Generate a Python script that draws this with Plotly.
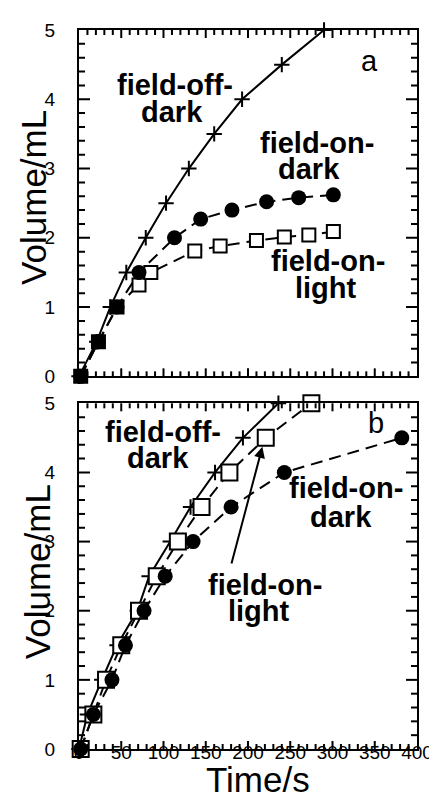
import plotly.graph_objects as go

# ---------------- data ----------------
a_off_t = [0, 21, 37, 56, 79, 103, 130, 160, 193, 240, 290]
a_off_v = [0, 0.5, 1.0, 1.5, 2.0, 2.5, 3.0, 3.5, 4.0, 4.5, 5.0]
a_ondark_t = [2, 23, 45, 71, 113, 144, 181, 222, 260, 301]
a_ondark_v = [0, 0.5, 1.0, 1.5, 2.0, 2.27, 2.4, 2.52, 2.58, 2.62]
a_onlight_t = [2, 23, 45, 71, 85, 137, 167, 210, 243, 272, 301]
a_onlight_v = [0, 0.5, 1.0, 1.32, 1.5, 1.81, 1.88, 1.96, 2.01, 2.04, 2.09]

b_off_t = [0, 10, 27, 45, 69, 83, 108, 132, 161, 194, 236]
b_off_v = [0, 0.5, 1.0, 1.5, 2.0, 2.5, 3.0, 3.5, 4.0, 4.5, 5.0]
b_ondark_t = [2, 17, 39, 55, 77, 102, 135, 180, 243, 382]
b_ondark_v = [0, 0.5, 1.0, 1.5, 2.0, 2.5, 3.0, 3.5, 4.0, 4.5]
b_onlight_t = [2, 17, 32, 50, 71, 92, 117, 145, 178, 221, 275]
b_onlight_v = [0, 0.5, 1.0, 1.5, 2.0, 2.5, 3.0, 3.5, 4.0, 4.5, 5.0]

x_major, x_minor, x_max = 50, 10, 400
y_major, y_minor, y_max = 1.0, 0.2, 5.0

FONT = "Liberation Sans, Arial, Helvetica, sans-serif"
DASH = "12px,7px"

fig = go.Figure()

def add_panel(xa, ya, off_t, off_v, dark_t, dark_v, light_t, light_v, light_colors, sq_size):
    fig.add_trace(go.Scatter(
        x=off_t, y=off_v, mode="lines+markers", xaxis=xa, yaxis=ya,
        line=dict(color="black", width=2),
        marker=dict(symbol="cross-thin", size=11, line=dict(color="black", width=2)),
        cliponaxis=False, showlegend=False))
    fig.add_trace(go.Scatter(
        x=light_t, y=light_v, mode="lines+markers", xaxis=xa, yaxis=ya,
        line=dict(color="black", width=2, dash=DASH),
        marker=dict(symbol="square", size=sq_size, color=light_colors,
                    line=dict(color="black", width=2)),
        cliponaxis=False, showlegend=False))
    fig.add_trace(go.Scatter(
        x=dark_t, y=dark_v, mode="lines+markers", xaxis=xa, yaxis=ya,
        line=dict(color="black", width=2, dash=DASH),
        marker=dict(symbol="circle", size=15, color="black"),
        cliponaxis=False, showlegend=False))

a_colors = ["black"] * 3 + ["white"] * (len(a_onlight_t) - 3)
add_panel("x", "y", a_off_t, a_off_v, a_ondark_t, a_ondark_v,
          a_onlight_t, a_onlight_v, a_colors, 13)
add_panel("x2", "y2", b_off_t, b_off_v, b_ondark_t, b_ondark_v,
          b_onlight_t, b_onlight_v, "white", 16)

# inward ticks on all four sides of each panel
def add_ticks(xa, ya):
    n = int(round(x_max / x_minor))
    for i in range(1, n):
        v = i * x_minor
        major = v % x_major == 0
        L = 8 if major else 5
        for anchor, sgn in ((0, 1), (1, -1)):
            fig.add_shape(type="line", xref=xa, yref=ya + " domain",
                          ysizemode="pixel", yanchor=anchor,
                          x0=v, x1=v, y0=0, y1=sgn * L,
                          line=dict(color="black", width=2), layer="above")
    m = int(round(y_max / y_minor))
    for j in range(1, m):
        v = j * y_minor
        major = j % int(round(y_major / y_minor)) == 0
        L = 11 if major else 6
        for anchor, sgn in ((0, 1), (1, -1)):
            fig.add_shape(type="line", xref=xa + " domain", yref=ya,
                          xsizemode="pixel", xanchor=anchor,
                          y0=v, y1=v, x0=0, x1=sgn * L,
                          line=dict(color="black", width=2), layer="above")

add_ticks("x", "y")
add_ticks("x2", "y2")

tickfont = dict(family=FONT, size=19, color="black")
ax_common = dict(showline=True, linewidth=2, linecolor="black", mirror=True,
                 ticks="", showgrid=False, zeroline=False, tickfont=tickfont)

fig.update_layout(
    width=437, height=803,
    margin=dict(l=71, r=18, t=21, b=62),
    paper_bgcolor="white", plot_bgcolor="white",
    xaxis=dict(domain=[0, 1], anchor="y", range=[0, x_max], tick0=0, dtick=x_major,
               showticklabels=False, **ax_common),
    yaxis=dict(domain=[0.5183, 1], anchor="x", range=[0, y_max], tick0=0, dtick=y_major,
               ticklabelstandoff=18, **ax_common),
    xaxis2=dict(domain=[0, 1], anchor="y2", range=[0, x_max], tick0=0, dtick=x_major,
                ticklabelstandoff=-15, **ax_common),
    yaxis2=dict(domain=[0, 0.4808], anchor="x2", range=[0, y_max], tick0=0, dtick=y_major,
                ticklabelstandoff=18, **ax_common),
)

bold = dict(family=FONT, size=29, color="black", weight="bold")
reg = dict(family=FONT, size=29, color="black")

labels = [
    ("x", "y", 114, 4.21, "field-off-", bold),
    ("x", "y", 110, 3.82, "dark", bold),
    ("x", "y", 282, 3.37, "field-on-", bold),
    ("x", "y", 272, 2.99, "dark", bold),
    ("x", "y", 295, 1.67, "field-on-", bold),
    ("x", "y", 292, 1.28, "light", bold),
    ("x", "y", 344, 4.55, "a", reg),
    ("x2", "y2", 99, 4.59, "field-off-", bold),
    ("x2", "y2", 94, 4.21, "dark", bold),
    ("x2", "y2", 316, 3.77, "field-on-", bold),
    ("x2", "y2", 310, 3.36, "dark", bold),
    ("x2", "y2", 220, 2.37, "field-on-", bold),
    ("x2", "y2", 213, 2.0, "light", bold),
    ("x2", "y2", 352, 4.72, "b", reg),
]
for xr, yr, x, y, t, f in labels:
    fig.add_annotation(x=x, y=y, xref=xr, yref=yr, text=t, showarrow=False,
                       font=f, xanchor="center", yanchor="middle")

fig.add_annotation(x=217, y=4.37, xref="x2", yref="y2",
                   ax=180, ay=2.66, axref="x2", ayref="y2",
                   text="", showarrow=True, arrowhead=2, arrowsize=1.1,
                   arrowwidth=2, arrowcolor="black")

title_font = dict(family=FONT, size=35, color="black")
fig.add_annotation(x=-0.135, y=0.767, xref="paper", yref="paper", text="Volume/mL",
                   textangle=-90, showarrow=False, font=title_font,
                   xanchor="center", yanchor="middle")
fig.add_annotation(x=-0.122, y=0.247, xref="paper", yref="paper", text="Volume/mL",
                   textangle=-90, showarrow=False, font=title_font,
                   xanchor="center", yanchor="middle")
fig.add_annotation(x=0.529, y=-0.043, xref="paper", yref="paper", text="Time/s",
                   showarrow=False, font=title_font,
                   xanchor="center", yanchor="middle")

fig.write_html("out.html")
